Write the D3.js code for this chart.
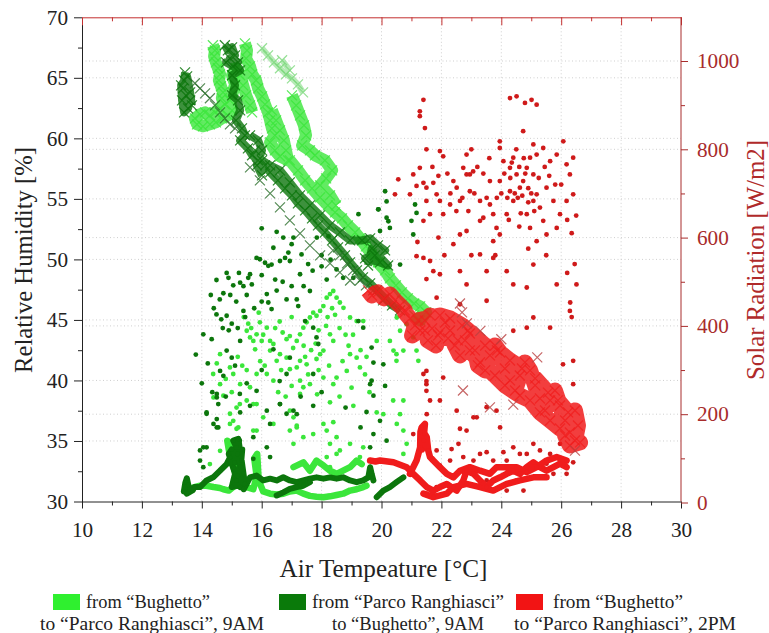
<!DOCTYPE html>
<html><head><meta charset="utf-8">
<script src="https://cdn.jsdelivr.net/npm/d3@7"></script>
<style>body{margin:0;background:#fff} svg text{font-family:"Liberation Serif","DejaVu Serif","Noto Serif",serif}</style>
</head><body><svg id="c" width="769" height="633"></svg>
<script>
// ---------- axis ticks / labels ----------
const xTicks=[10,12,14,16,18,20,22,24,26,28,30];
const xMinor=[11,13,15,17,19,21,23,25,27,29];
const humTicks=[30,35,40,45,50,55,60,65,70];
const humMinor=[32.5,37.5,42.5,47.5,52.5,57.5,62.5,67.5];
const radTicks=[0,200,400,600,800,1000];
const radMinor=[100,300,500,700,900];
const xTitle="Air Tempeature [°C]";
const yTitle="Relative Humidity [%]";
const y2Title="Solar Radiation [W/m2]";
const legendLine1=["from “Bughetto”","from “Parco Ranghiasci”","from “Bughetto”"];
const legendLine2=["to “Parco Ranghiasci”, 9AM","to “Bughetto”, 9AM","to “Parco Ranghiasci”, 2PM"];

// ---------- humidity (crosses) [temp, RH%] ; null = break ----------
const lgHum=[[14.37,67.69],[14.44,67.27],[14.41,66.78],[14.47,66.28],[14.54,65.79],[14.61,65.29],[14.57,64.79],[14.64,64.3],[14.71,63.8],[14.67,63.31],[14.77,62.81],[14.61,62.48],[14.44,62.15],[14.27,61.9],[14.11,62.15],[13.94,61.98],[13.77,61.65],[13.84,61.16],[14.04,60.99],[14.27,61.16],[14.47,61.32],[14.67,61.65],[14.87,61.9],[15.01,62.31],[14.94,63.14],[15.04,63.8],[15.11,64.46],[15.01,65.21],[15.14,65.79],[15.28,65.21],[15.38,64.38],[15.48,63.55],[15.61,62.73],[15.68,62.15],null,
[15.44,67.85],[15.51,67.27],[15.48,66.61],[15.61,65.95],[15.68,65.29],[15.81,64.79],[15.88,64.13],[16.01,63.47],[16.11,62.81],[16.21,62.15],[16.28,61.49],[16.34,60.83],[16.44,60.25],[16.28,59.67],[16.44,59.01],[16.61,58.51],[16.88,58.18],[16.81,59.01],[16.74,59.83],[16.61,60.66],[16.48,61.49],[16.34,62.31],null,
[17.01,63.55],[17.15,62.73],[17.28,61.9],[17.41,61.07],[17.48,60.25],[17.35,59.42],[17.61,59.01],[17.78,58.6],[18.11,58.18],[18.35,57.36],[18.15,56.69],[17.95,56.12],[18.28,55.29],[18.48,54.46],null,
[16.94,58.18],[17.21,57.36],[17.45,56.53],[17.68,55.87],[17.95,55.12],[18.21,54.46],[18.45,53.88],[18.68,53.39],[18.88,52.81],[19.12,52.23],[19.28,51.74],[19.48,51.07],[19.68,50.41],[19.88,49.75],[20.12,49.09],[20.28,48.43],[20.48,47.85],[20.68,47.27],[20.88,46.78],[21.09,46.36],[21.29,46.12],[21.49,45.62],[21.29,44.96],[21.09,45.37]];
const lgHumSparse=[[16.01,67.44],[16.21,66.86],[16.41,66.28],[16.61,65.79],[16.81,65.29],[17.01,64.96],[17.21,64.46],[17.38,63.8],null,[16.68,66.45],[16.94,65.62]];

const dgHum=[[13.44,65.45],[13.41,64.79],[13.37,64.13],[13.47,63.55],[13.61,63.14],[13.54,62.48],[13.41,62.15],[13.34,63.14],[13.31,64.38],[13.51,65.12],[13.61,63.8],[13.67,62.73],null,
[14.77,67.69],[14.87,67.27],[15.01,67.52],[15.11,66.86],[14.94,66.61],[15.21,66.28],[14.81,66.28],[15.04,65.95],[15.28,65.62],[15.01,65.21],[15.11,64.38],[15.01,63.55],[15.21,63.14],[15.28,62.31],[15.14,61.49],[15.34,60.83],[15.44,60.25],[15.28,59.83],[15.54,59.17],[15.68,58.6],[15.88,58.18],[16.11,57.77],[16.28,57.19],[16.54,56.53],[16.78,55.87],[17.01,55.29],[17.21,54.63],[17.45,54.05],[17.68,53.39],[17.88,52.81],[18.11,52.23],[18.35,51.57],[18.55,50.99],[18.78,50.33],[18.95,49.75],[19.18,49.09],[19.38,48.51],[19.62,48.02],[19.85,47.44],[20.12,46.78],[20.35,46.2],[20.62,45.79],null,
[15.78,59.01],[16.01,58.18],[16.28,57.77],[16.61,57.36],[16.94,56.36],[17.28,55.29],[17.61,54.46],[17.95,53.64],[18.28,52.81],[18.61,52.23],[18.95,51.57],[19.35,51.57],[19.62,51.74],[19.88,51.16],[20.12,50.74],[19.78,50.33],[19.45,50.08],[19.95,49.75],[20.22,49.5],[19.68,50.91],[19.55,49.5],null,
[15.61,60.25],[15.88,59.83],[16.01,59.01],[15.84,57.77],[16.01,56.94]];
const dgHumSparse=[[13.77,64.55],[13.94,64.13],[14.11,63.72],[14.27,63.31],[14.44,62.73],[14.61,62.15],[14.77,61.65],[14.94,61.16],[15.11,60.83],
[15.61,57.6],[15.94,56.53],[16.28,55.45],[16.61,54.3],[16.94,53.22],[17.28,52.15],[17.61,51.16],[17.95,50.33],[18.28,49.67],[18.61,48.93],[18.95,48.26],
[18.38,50.74],[18.61,50.33],[18.85,49.67],[19.05,49.09],[19.28,48.26],[19.48,47.85],[19.72,47.44],[20.05,46.61]];

const rdHum=[[19.55,47.44],[19.68,47.02],[19.88,47.27],[20.08,46.78],[20.28,47.11],[20.45,46.61],[20.62,46.2],[20.78,45.79],[20.78,45.62],[20.95,45.12],[21.12,44.55],[21.02,43.72],[21.29,44.13],[21.45,44.96],[21.62,45.37],[21.69,44.3],[21.55,43.31],[21.82,42.89],[21.95,43.97],[22.12,44.79],[22.29,44.13],[22.45,42.89],[22.62,42.07],[22.79,43.31],[22.95,43.88],[23.12,42.48],[23.22,41.24],[23.46,40.83],[23.62,42.07],[23.79,42.89],[23.96,42.31],[24.12,40.99],[24.29,40.0],[24.46,39.17],[24.62,40.41],[24.79,41.49],[24.96,40.83],[25.13,39.59],[25.29,38.51],[25.46,37.52],[25.63,38.35],[25.79,39.17],[25.96,37.93],[26.13,36.69],[26.29,35.7],[26.46,35.04],[26.56,36.28],[26.46,37.52],[26.13,35.45],[26.29,34.63],[26.63,34.88],[25.96,36.03],[25.63,36.69],[25.29,37.36],[24.96,38.35],[24.62,38.76],[24.12,39.59],[23.79,40.41],[23.29,41.49],[22.95,42.48],[22.55,43.31],[22.22,43.47],[21.89,43.72],[21.45,44.13],[21.22,44.96],[21.95,45.37],[22.29,45.12],[22.69,44.55],[22.89,44.13],[23.46,42.89],[23.86,42.48],[24.29,41.65],[24.69,40.99],[25.13,40.17],[25.56,39.0],[25.89,38.35],[26.23,37.36]];
const rdHumSparse=[[22.62,46.36],[22.69,45.62],[22.85,44.71],[23.62,37.77],[26.46,34.2],[22.72,39.17],[24.4,38.0],[25.2,41.9],[24.0,43.4],[23.3,44.1]];

// ---------- solar radiation (dots) [temp, W/m2] ----------
const lgRad=[[15.94,408],[16.17,396],[15.5,389],[15.61,374],[15.72,366],[15.83,381],[15.78,347],[16.0,366],[16.28,366],[16.39,359],[16.83,370],[16.94,377],[17.17,366],[17.28,381],[17.39,396],[17.5,408],[17.61,419],[17.72,430],[17.83,423],[17.95,434],[18.06,445],[18.17,464],[18.28,472],[18.39,479],[18.5,464],[18.61,453],[18.73,441],[18.95,419],[19.17,411],[19.39,411],[18.28,381],[18.39,366],[18.06,344],[17.95,336],[17.83,325],[17.5,313],[17.28,321],[17.17,306],[16.94,302],[16.83,328],[16.61,336],[16.5,321],[16.28,344],[16.17,291],[14.94,306],[15.05,291],[14.61,336],[14.38,291],[15.28,268],[15.61,261],[15.83,291],[16.39,276],[17.28,276],[17.61,268],[18.06,283],[18.5,283],[18.84,298],[19.28,306],[19.84,366],[20.28,366],[20.5,336],[20.73,344],[18.95,336],[19.17,328],
[15.27,223],[15.5,231],[15.83,223],[14.94,201],[15.05,185],[15.22,170],[15.72,163],[17.06,193],[17.17,170],[16.94,208],[14.39,238],
[14.61,268],[14.72,242],[15.72,223],[15.16,215],[14.94,178],[15.16,167],[17.0,264],[17.28,246],[17.39,261],[17.17,174],[16.94,163],[17.06,133],[17.39,148],[17.72,155],[18.06,178],[18.17,163],[18.39,182],[18.5,148],[18.28,133],[18.17,103],[18.5,110],[18.28,80],[18.61,118],[18.95,133],[19.06,219],[19.17,95],[19.28,103],[19.39,125],[19.84,204],[20.06,200],[20.39,231],[20.73,231],[20.62,200],[20.51,178],[20.73,163],[20.84,133],[20.73,110],[18.39,268],[18.28,227],[16.05,193],[15.83,163],[16.39,178],[14.27,87],[14.61,117],
[20.51,419],[20.84,404],[21.06,374],[21.17,344],[21.23,321],[20.62,389],[20.4,344],[20.5,321],
[15.4,420],[15.55,405],[15.65,395],[15.9,430],[16.05,380],[16.45,395],[16.6,410],[16.7,385],[17.0,420],[17.05,350],[17.4,355],[17.45,330],[17.65,345],[17.8,360],[17.9,390],[18.15,400],[18.2,420],[18.35,440],[18.45,425],[18.6,395],[18.8,380],[18.9,355],[19.05,380],[19.3,345],[19.5,330],[15.2,330],[15.35,310],[15.5,300],[15.95,320],[16.1,310],[16.65,300],[17.55,290],[17.9,300],[18.25,310],[18.7,320],[19.45,290],[19.6,250],[16.55,250],[16.8,240],[17.85,245],[18.6,240],[19.0,260],[15.0,250],[14.8,280],[14.5,315]];
const lgRadTrace=[[13.6,30],[13.75,35],[13.94,38],[14.16,38],[14.39,35],[14.6,33],[14.72,30],[14.9,27],[15.05,35],[15.16,60],[15.0,90],[14.9,120],[14.85,140],[15.0,130],[15.1,100],[15.22,70],[15.3,40],[15.5,35],[15.72,30],[15.83,60],[15.75,100],[15.85,110],[15.9,50],[16.05,25],[16.28,20],[16.5,18],[16.72,20],[16.94,25],[17.17,27],[17.39,20],[17.61,15],[17.83,13],[18.06,12],[18.28,14],[18.5,17],[18.72,20],[18.95,27],[19.17,30],[19.39,35],[19.5,38],null,
[17.06,80],[17.39,91],[17.61,72],[17.83,95],[18.06,84],[18.28,72],[18.5,65],[18.95,80],[19.17,95],[19.34,87]];

const dgRad=[[14.49,504],[14.72,474],[14.83,520],[14.89,509],[15.05,492],[15.24,520],[15.28,498],[15.39,490],[15.55,509],[15.61,517],[15.67,494],[15.83,554],[15.94,551],[16.11,543],[16.22,536],[16.33,539],[16.39,577],[16.61,547],[16.78,554],[16.89,566],[16.94,547],[17.28,517],[17.33,562],[14.49,426],[14.83,423],[14.05,381],[14.33,370],[15.28,366],[15.39,434],[16.17,472],[16.22,453],[16.33,438],[16.83,460],[17.17,460],[17.22,445],[17.45,411],[17.61,479],[17.83,374],[17.89,359],[17.72,396],[18.17,505],[14.83,344],[15.0,328],[15.11,310],[14.61,298],[14.72,287],[16.39,347],[16.94,328],[16.83,291],[17.72,291],[19.67,351],[19.73,317],[20.06,313],[19.39,396],[19.23,411],[19.67,276],[18.5,528],[18.72,509],[19.06,509],[20.62,539],
[16.0,621],[16.5,613],[16.72,600],[17.06,600],[18.23,603],[17.84,600],[20.23,637],[20.17,682],[19.9,664],
[19.23,653],[19.89,664],[20.12,705],[20.17,645],[19.95,615],[20.28,622],[21.12,675],[21.17,656],[21.0,638],[21.06,607],
[16.17,208],[16.61,223],[14.16,201],[14.39,178],[14.55,170],[13.94,118],[14.16,125],[15.27,140],[15.72,148],[16.28,178],[16.83,201],[17.06,208],[14.5,238],[15.27,246],[15.83,253],
[14.5,246],[14.55,223],[14.16,204],[14.5,189],[14.5,170],[15.28,204],[15.61,219],[16.61,223],[17.17,200],[17.72,219],[19.62,268],[20.12,264],[19.73,242],[19.95,185],[20.17,140],[19.73,155],[19.62,125],[19.84,95],[16.17,125],[16.28,103],[15.72,99],[14.05,125],[14.05,80],[13.94,95],
[14.6,460],[14.95,470],[15.15,455],[14.7,395],[15.0,405],[15.5,470],[16.0,515],[16.45,505],[17.0,585],[17.55,540],[18.0,560],
[14.3,470],[14.4,440],[14.65,415],[14.9,390],[15.2,395],[15.45,420],[15.75,440],[16.0,455],[16.5,480],[16.7,500],[17.0,490],[17.4,490],[17.7,525],[18.0,535],[18.3,550],[13.8,335],[14.2,315],[14.0,270],[14.35,250],[14.8,240],[15.5,270],[16.0,300],[16.6,275],[17.3,240],[18.0,250],[18.8,215],[19.3,170],[19.5,205]];
const dgRadTrace=[[13.4,25],[13.45,45],[13.5,55],[13.55,40],[13.6,30],[13.5,20],[13.7,28],[13.75,35],[13.94,35],[14.16,50],[14.38,57],[14.61,72],[14.83,87],[14.94,102],[15.05,80],[15.16,50],[15.28,35],[15.39,65],[15.16,125],[15.05,140],[15.22,144],[15.33,95],[15.44,42],[15.0,35],[15.11,65],[14.9,110],[15.0,120],[15.1,90],[15.2,110],[15.3,80],[15.35,120],[15.2,60],[15.4,30],[15.61,57],[15.83,61],[16.05,50],[16.28,54],[16.5,50],[16.72,57],[16.94,50],[17.17,46],[17.39,50],[17.61,54],[17.83,57],[18.06,54],[18.28,57],[18.5,54],[18.72,57],[18.95,50],[19.17,46],[19.39,50],[19.56,57],[19.62,80],[19.67,65],[19.73,50],null,
[16.5,16],[16.72,23],[16.94,31],[17.17,35],[17.39,38],[17.61,46],null,
[19.84,12],[20.06,27],[20.28,35],[20.5,46],[20.73,57]];

const rdRad=[[21.4,912],[21.28,886],[21.28,875],[21.45,848],[21.5,800],[21.95,796],[22.06,784],[21.28,758],[21.06,743],[20.56,732],[20.45,698],[20.95,698],[21.17,717],[21.4,724],[21.5,713],[21.73,724],[21.5,683],[21.62,653],[21.4,638],[21.84,698],[21.95,683],[22.06,653],[22.29,675],[22.4,728],[22.51,713],[22.62,683],[22.73,758],[22.84,743],[22.95,743],[22.84,788],[23.06,750],[22.95,705],[23.29,683],[23.4,645],[23.51,690],[23.62,675],[23.73,653],[23.84,622],[23.73,592],[23.95,607],[24.18,653],[24.29,705],[24.4,683],[23.95,728],[23.95,803],[24.07,773],[24.29,758],[24.4,781],[24.51,743],[24.62,713],[24.73,728],[24.85,758],[24.96,781],[25.07,743],[25.18,698],[25.29,668],[25.4,638],[25.51,607],[25.18,592],[24.96,622],[24.85,653],[25.07,683],[25.51,713],[25.74,683],[25.96,653],[25.85,622],[26.18,683],[26.4,698],[26.29,743],[26.18,766],[26.4,781],[26.07,818],[25.85,788],[25.63,773],[25.4,803],[25.18,788],[25.07,811],[24.73,841],[24.29,916],[24.51,920],[24.79,905],[25.01,912],[25.18,901],[23.95,818],[22.62,607],[22.4,585],[22.84,615],[23.29,638],[23.62,728],
[24.3,735],[24.45,700],[24.55,690],[24.6,760],[24.7,695],[24.8,745],[24.9,712],[25.0,700],[24.2,690],[24.35,770],[24.5,800],[24.65,655],[24.9,680],[25.1,660],[24.25,640],[24.0,700],[23.85,690],[24.1,745],[24.75,780],[24.6,625],[25.25,735],[25.45,760],[25.6,740],[25.8,720],[26.0,720],[26.2,640],[26.35,610],[26.5,650],[22.3,700],[22.2,745],[22.7,690],[22.9,660],[23.1,700],[23.2,760],[22.5,660],[21.9,740],[21.7,760],[23.4,745],[23.0,800],[23.6,780],[21.2,590],[21.9,600],[22.1,560],[23.0,560],[26.45,540],[26.2,520],[25.5,560],[24.9,575],[23.8,560],
[21.17,558],[21.4,554],[21.62,547],[21.73,524],[21.5,506],[21.95,517],[22.62,524],[22.84,494],[23.29,562],[23.51,524],[23.73,554],[24.18,524],[24.4,494],[24.85,487],[25.07,539],[25.85,494],[26.29,434],[26.51,494],[21.84,464],[22.62,449],[23.51,457],[24.4,389],[24.85,396],[25.07,419],[25.63,396],[26.4,321],[26.4,268],[21.4,291],[21.5,268],[21.62,231],[22.06,283],[22.51,208],[22.84,163],[23.18,193],[23.51,216],[23.84,208],[26.3,453],[26.35,420],[26.06,313],[21.5,298],[21.5,275],[21.5,253],
[21.95,231],[23.07,193],[23.96,170],[22.62,167],[21.51,200],[21.06,155],[21.29,125],[21.84,118],[21.95,84],[22.34,121],[22.57,133],[22.29,95],[22.73,103],[23.07,95],[23.29,110],[23.51,114],[23.73,95],[24.07,114],[24.18,95],[24.4,125],[24.62,110],[24.85,110],[25.07,133],[25.29,118],[25.51,88],[25.63,110],[25.96,95],[26.18,65],[26.4,91],[25.96,133],[25.74,65],[24.51,50],[24.18,27],[24.74,27],[23.51,50],[22.62,35],[22.18,20],[21.84,35],[21.51,20]];
const rdRadTrace=[[19.62,95],[19.8,93],[19.95,95],[20.4,91],[20.84,80],[21.06,65],[21.29,50],[21.51,35],[21.73,27],[21.95,35],[22.18,42],[22.51,27],[22.73,50],[22.84,72],[23.07,65],[23.29,50],[23.51,35],[23.73,50],[23.96,57],[24.18,65],[24.4,72],[24.62,65],[24.85,80],[25.07,91],[25.29,80],[25.51,72],[25.74,80],[25.96,88],[26.18,80],null,
[20.95,65],[21.17,95],[21.29,125],[21.3,160],[21.34,170],[21.45,178],[21.4,140],[21.35,120],[21.45,155],[21.51,148],[21.56,118],[21.62,103],[21.73,95],[21.95,80],[22.18,65],[22.4,57],[22.62,72],[22.95,80],[23.29,72],[23.62,65],[23.84,80],[24.18,80],[24.51,80],[24.85,69],[25.18,80],[25.51,95],[25.85,103],[26.18,95],null,
[21.4,20],[21.73,12],[22.18,20],[22.4,35],[22.84,42],[23.29,35],[23.73,27],[24.18,42],[24.62,50],[25.07,57],[25.51,57]];

// ---------- drawing ----------
const LG="#3be63b", DG="#0c760c", RD="#f01c1c", RDDOT="#cf1a1a";
const svg=d3.select("#c");
const x=d3.scaleLinear().domain([10,30]).range([82,681]);
const yH=d3.scaleLinear().domain([30,70]).range([501.5,17.3]);
const yR=d3.scaleLinear().domain([0,1000]).range([502.5,61]);
const pTop=yH(70), pBot=yH(30), pLeft=x(10), pRight=x(30);
const SERIF='"Liberation Serif","DejaVu Serif","Noto Serif",serif';

// grid
const grid=svg.append("g").attr("stroke","#cfcfcf").attr("stroke-width",1).attr("stroke-dasharray","1,2.5");
grid.selectAll(".gx").data(xTicks.slice(1,-1)).join("line").attr("x1",d=>x(d)).attr("x2",d=>x(d)).attr("y1",pTop).attr("y2",pBot);
grid.selectAll(".gh").data(humTicks.slice(1,-1)).join("line").attr("x1",pLeft).attr("x2",pRight).attr("y1",d=>yH(d)).attr("y2",d=>yH(d));
grid.selectAll(".gr").data(radTicks.slice(1)).join("line").attr("x1",pLeft).attr("x2",pRight).attr("y1",d=>yR(d)).attr("y2",d=>yR(d));

const plot=svg.append("g");
function crosses(data,yS,color,lineW,lineOp,op){
  const g=plot.append("g");
  if(lineW>0){
    g.append("path").datum(data).attr("fill","none").attr("stroke",color).attr("stroke-width",lineW)
     .attr("stroke-linejoin","round").attr("stroke-linecap","butt").attr("opacity",lineOp)
     .attr("d",d3.line().defined(d=>d!==null).x(d=>x(d[0])).y(d=>yS(d[1])));
  }
  g.selectAll("path.cx").data(data.filter(d=>d)).join("path").attr("class","cx")
   .attr("transform",d=>`translate(${x(d[0])},${yS(d[1])})`)
   .attr("d","M-5,-5L5,5M-5,5L5,-5").attr("stroke",color).attr("stroke-width",1.2).attr("fill","none").attr("opacity",op);
}
function dots(data,yS,color,lineW){
  const g=plot.append("g");
  if(lineW>0){
    g.append("path").datum(data).attr("fill","none").attr("stroke",color).attr("stroke-width",lineW)
     .attr("stroke-linejoin","round").attr("stroke-linecap","round")
     .attr("d",d3.line().defined(d=>d!==null).x(d=>x(d[0])).y(d=>yS(d[1])));
  }
  g.selectAll("circle").data(data.filter(d=>d)).join("circle")
   .attr("cx",d=>x(d[0])).attr("cy",d=>yS(d[1])).attr("r",2.4).attr("fill",color);
}
dots(lgRad,yR,LG,0); dots(lgRadTrace,yR,LG,6.5);
dots(dgRad,yR,DG,0); dots(dgRadTrace,yR,DG,6);
crosses(lgHumSparse,yH,"#7ad87a",6,0.55,0.8);
crosses(lgHum,yH,LG,12,0.8,0.85);
crosses(dgHum,yH,DG,8,0.8,0.85); crosses(dgHumSparse,yH,"#2a6e2a",0,0,0.8);
dots(rdRad,yR,RDDOT,0); dots(rdRadTrace,yR,RD,6.5);
crosses(rdHum,yH,RD,16,0.85,0.75); crosses(rdHumSparse,yH,"#b84040",0,0,0.8);

// axes
function styleAxis(g,color){
  g.attr("font-family",null);
  g.selectAll("path,line").attr("stroke",color);
  g.selectAll("text").attr("fill",color).attr("font-size",21).attr("font-family",SERIF)
   .attr("textLength",function(){return this.textContent.length*10.6;}).attr("lengthAdjust","spacingAndGlyphs");
}
const fmt=d3.format("d");
const aL=svg.append("g").attr("transform",`translate(${pLeft},0)`).call(d3.axisLeft(yH).tickValues(humTicks).tickFormat(fmt).tickSize(8).tickPadding(6).tickSizeOuter(0));
styleAxis(aL,"#222");
svg.append("g").attr("transform",`translate(${pLeft},0)`).call(d3.axisLeft(yH).tickValues(humMinor).tickSize(4).tickFormat("").tickSizeOuter(0)).call(g=>{g.select(".domain").remove();g.selectAll("line").attr("stroke","#222");});
const aB=svg.append("g").attr("transform",`translate(0,${pBot})`).call(d3.axisBottom(x).tickValues(xTicks).tickFormat(fmt).tickSize(7).tickPadding(14).tickSizeOuter(0));
styleAxis(aB,"#222");
svg.append("g").attr("transform",`translate(0,${pBot})`).call(d3.axisBottom(x).tickValues(xMinor).tickSize(4).tickFormat("").tickSizeOuter(0)).call(g=>{g.select(".domain").remove();g.selectAll("line").attr("stroke","#222");});
const aT=svg.append("g").attr("transform",`translate(0,${pTop})`).call(d3.axisBottom(x).tickValues(xTicks).tickSize(8).tickFormat("").tickSizeOuter(0));
styleAxis(aT,"#c43030");
svg.append("g").attr("transform",`translate(0,${pTop})`).call(d3.axisBottom(x).tickValues(xMinor).tickSize(4).tickFormat("").tickSizeOuter(0)).call(g=>{g.select(".domain").remove();g.selectAll("line").attr("stroke","#c43030");});
const aR=svg.append("g").attr("transform",`translate(${pRight},0)`).call(d3.axisRight(yR).tickValues(radTicks).tickFormat(fmt).tickSize(7).tickPadding(9).tickSizeOuter(0));
styleAxis(aR,"#a82c2c");
aR.select(".domain").attr("d",`M0,${pTop}V${pBot}`);
svg.append("g").attr("transform",`translate(${pRight},0)`).call(d3.axisRight(yR).tickValues(radMinor).tickSize(4).tickFormat("").tickSizeOuter(0)).call(g=>{g.select(".domain").remove();g.selectAll("line").attr("stroke","#a82c2c");});

// titles
svg.append("text").attr("x",(pLeft+pRight)/2+2).attr("y",577).attr("text-anchor","middle").attr("font-size",25).attr("fill","#222").attr("font-family",SERIF)
   .attr("textLength",208).attr("lengthAdjust","spacingAndGlyphs").text(xTitle);
svg.append("text").attr("transform","translate(32,260) rotate(-90)").attr("text-anchor","middle").attr("font-size",25).attr("fill","#222").attr("font-family",SERIF)
   .attr("textLength",226).attr("lengthAdjust","spacingAndGlyphs").text(yTitle);
svg.append("text").attr("transform","translate(764,260) rotate(-90)").attr("text-anchor","middle").attr("font-size",25).attr("fill","#b02a2a").attr("font-family",SERIF)
   .attr("textLength",240).attr("lengthAdjust","spacingAndGlyphs").text(y2Title);

// legend
const legColors=["#2ff02f","#0a7a0a","#f21414"];
const sqX=[53,279,516], l1X=[86,312,553], l1W=[124,192,130], l2X=[40,332,514], l2W=[224,152,222];
legColors.forEach((c,i)=>{
  svg.append("rect").attr("x",sqX[i]).attr("y",594).attr("width",27).attr("height",16).attr("fill",c);
  svg.append("text").attr("x",l1X[i]).attr("y",608).attr("font-size",19.5).attr("fill","#222").attr("font-family",SERIF).attr("textLength",l1W[i]).attr("lengthAdjust","spacingAndGlyphs").text(legendLine1[i]);
  svg.append("text").attr("x",l2X[i]).attr("y",630).attr("font-size",19.5).attr("fill","#222").attr("font-family",SERIF).attr("textLength",l2W[i]).attr("lengthAdjust","spacingAndGlyphs").text(legendLine2[i]);
});
</script></body></html>
